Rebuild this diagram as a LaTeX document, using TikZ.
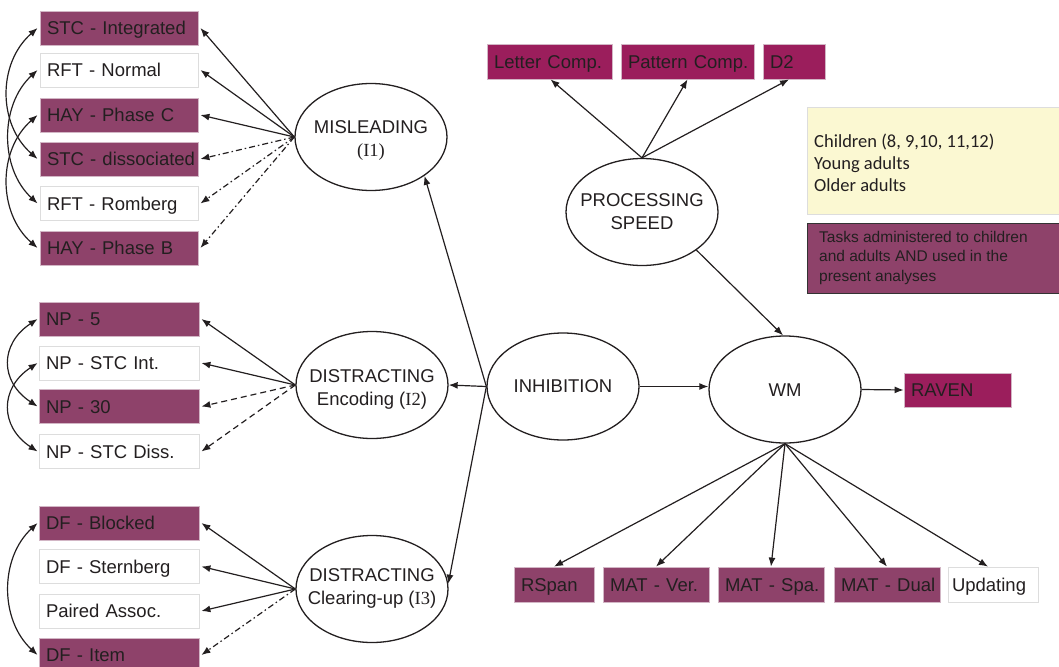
\documentclass[tikz,border=0pt]{standalone}
\usepackage{fontspec}
\setmainfont{Liberation Sans}
\newfontfamily\calib{Carlito}
\newfontfamily\tnr{Liberation Serif}
\usetikzlibrary{arrows.meta,shapes.geometric}
\definecolor{task}{HTML}{8E426A}
\definecolor{speedc}{HTML}{9B1E5C}
\definecolor{legy}{HTML}{FBF8D2}
\definecolor{ink}{HTML}{231F20}
\definecolor{taskedge}{HTML}{D2B6C5}
\definecolor{plainedge}{HTML}{DDDDDD}
\definecolor{legedge}{HTML}{333333}

\begin{document}
\begin{tikzpicture}[x=1pt,y=-1pt,
  every node/.style={text=ink, font=\fontsize{18.5}{22}\selectfont},
  box/.style={rectangle, inner xsep=7pt, inner ysep=0pt, minimum height=34pt,
    text height=13.3pt, text depth=0pt, align=left, line width=0.8pt,
    execute at begin node={\leavevmode\hbox\bgroup},
    execute at end node={\egroup}},
  tbox/.style={box, fill=task, draw=taskedge},
  wbox/.style={box, fill=white, draw=plainedge},
  sbox/.style={box, fill=speedc, draw=taskedge},
  lat/.style={ellipse, draw=ink, line width=1.3pt, fill=white, inner sep=0pt,
    minimum width=152pt, minimum height=107pt},
  lbl/.style={align=center, inner sep=0pt, font=\fontsize{18.5}{23}\selectfont},
  ln/.style={draw=ink, line width=1.2pt},
  tip/.style={-{Latex[length=9pt,width=7pt]}},
  both/.style={{Latex[length=9pt,width=7pt]}-{Latex[length=9pt,width=7pt]}},
  dd/.style={dash pattern=on 6pt off 3pt on 1.5pt off 3pt},
  ds/.style={dash pattern=on 6pt off 4pt},
]
\useasboundingbox (0,0) rectangle (1059,666);

% ---------- misleading indicators ----------
\node[tbox, text width=144pt] (stci) at (119,28)    {STC - Integrated};
\node[wbox, text width=144pt] (rftn) at (119,70)    {RFT - Normal};
\node[tbox, text width=144pt] (hayc) at (119,115)   {HAY - Phase C};
\node[tbox, text width=144pt] (stcd) at (119,159)   {STC - dissociated};
\node[wbox, text width=144pt] (rftr) at (119,203.5) {RFT - Romberg};
\node[tbox, text width=144pt] (hayb) at (119,248)   {HAY - Phase B};

% ---------- distracting encoding indicators ----------
\node[tbox, text width=146pt] (np5)   at (119,319)   {NP - 5};
\node[wbox, text width=146pt] (npint) at (119,363)   {NP - STC Int.};
\node[tbox, text width=146pt] (np30)  at (119,406.5) {NP - 30};
\node[wbox, text width=146pt] (npdis) at (119,451.5) {NP - STC Diss.};

% ---------- distracting clearing-up indicators ----------
\node[tbox, text width=146pt] (dfb) at (119,523)   {DF - Blocked};
\node[wbox, text width=146pt] (dfs) at (119,566.5) {DF - Sternberg};
\node[wbox, text width=146pt] (pa)  at (119,611)   {Paired Assoc.};
\node[tbox, text width=146pt] (dfi) at (119,655)   {DF - Item};

% ---------- processing speed indicators ----------
\node[sbox, text width=111pt, minimum height=35pt] (lc) at (549.5,61.5) {Letter Comp.};
\node[sbox, text width=119pt, minimum height=35pt] (pc) at (687.5,61.5) {Pattern Comp.};
\node[sbox, text width=48pt,  minimum height=35pt] (d2) at (794,61.5)   {D2};

% ---------- working memory indicators ----------
\node[sbox, text width=93pt] (raven) at (957.5,390) {RAVEN};
\node[tbox, text width=66pt, minimum height=35pt] (rspan) at (554,584.5) {RSpan};
\node[tbox, text width=92pt, minimum height=35pt] (matv)  at (656,584.5) {MAT - Ver.};
\node[tbox, text width=92pt, minimum height=35pt] (mats)  at (771,584.5) {MAT - Spa.};
\node[tbox, text width=92pt, minimum height=35pt] (matd)  at (887,584.5) {MAT - Dual};
\node[wbox, text width=82pt, minimum height=35pt, inner xsep=4pt] (upd) at (993,584.5) {Updating};

% ---------- latent variables ----------
\node[lat] (mis) at (371,137) {};
\node[lbl] (mist) at (371,141) {MISLEADING\\{\tnr(I1)}};
\node[lat] (enc) at (372,385) {};
\node[lbl] (enct) at (372,389) {DISTRACTING\\Encoding ({\tnr I2})};
\node[lat] (cu) at (372,589) {};
\node[lbl] (cut) at (372,588.5) {DISTRACTING\\Clearing-up ({\tnr I3})};
\node[lat] (inh) at (563,386.5) {};
\node[lbl] (inht) at (563,386.5) {INHIBITION};
\node[lat] (wm) at (785,389.5) {};
\node[lbl] (wmt) at (785,390) {WM};
\node[lat] (ps) at (642,212) {};
\node[lbl] (pst) at (642,211.5) {PROCESSING\\SPEED};

% ---------- legend ----------
\node[rectangle, fill=legy, draw=plainedge, line width=0.8pt, anchor=north west,
  minimum width=260pt, minimum height=107pt, inner sep=0pt] (legpop) at (807,107) {};
\node[anchor=west, align=left, inner sep=0pt, font=\calib\fontsize{18.5}{22}\selectfont]
  (legpopt) at (814,162.5) {Children (8, 9,10, 11,12)\\Young adults\\Older adults};
\node[rectangle, fill=task, draw=legedge, line width=1.2pt, anchor=north west,
  minimum width=260pt, minimum height=70pt, inner sep=0pt] (legtask) at (807,223) {};
\node[anchor=west, align=left, inner sep=0pt, font=\fontsize{15.5}{19.5}\selectfont]
  (legtaskt) at (819,257.5) {Tasks administered to children\\and adults AND used in the\\present analyses};

% ---------- loadings: misleading ----------
\draw[ln, tip]     (mis.west) -- ([xshift=2pt]stci.east);
\draw[ln, tip]     (mis.west) -- ([xshift=2pt]rftn.east);
\draw[ln, tip]     (mis.west) -- ([xshift=2pt]hayc.east);
\draw[ln, tip, dd] (mis.west) -- ([xshift=2pt]stcd.east);
\draw[ln, tip, dd] (mis.west) -- ([xshift=2pt]rftr.east);
\draw[ln, tip, dd] (mis.west) -- ([xshift=2pt]hayb.east);

% ---------- loadings: encoding ----------
\draw[ln, tip]     (enc.west) -- ([xshift=2pt]np5.east);
\draw[ln, tip]     (enc.west) -- ([xshift=2pt]npint.east);
\draw[ln, tip, ds] (enc.west) -- ([xshift=2pt]np30.east);
\draw[ln, tip, ds] (enc.west) -- ([xshift=2pt]npdis.east);

% ---------- loadings: clearing-up ----------
\draw[ln, tip]     (cu.west) -- ([xshift=2pt]dfb.east);
\draw[ln, tip]     (cu.west) -- ([xshift=2pt]dfs.east);
\draw[ln, tip]     (cu.west) -- ([xshift=2pt]pa.east);
\draw[ln, tip, dd] (cu.west) -- ([xshift=2pt]dfi.east);

% ---------- residual covariances ----------
\draw[ln, both] ([xshift=-2pt]stci.west) .. controls +(-40,35) and +(-40,-35) .. ([xshift=-2pt]stcd.west);
\draw[ln, both] ([xshift=-2pt]rftn.west) .. controls +(-38,35) and +(-38,-35) .. ([xshift=-2pt]rftr.west);
\draw[ln, both] ([xshift=-2pt]hayc.west) .. controls +(-40,35) and +(-40,-35) .. ([xshift=-2pt]hayb.west);
\draw[ln, both] ([xshift=-1pt]np5.west) .. controls +(-38,25) and +(-38,-25) .. ([xshift=-1pt]np30.west);
\draw[ln, both] ([xshift=-1pt]npint.west) .. controls +(-38,25) and +(-38,-25) .. ([xshift=-1pt]npdis.west);
\draw[ln, both] ([xshift=-1pt]dfb.west) .. controls +(-38,35) and +(-38,-35) .. ([xshift=-1pt]dfi.west);

% ---------- structural paths ----------
\draw[ln, tip] (inh.west) -- (mis.-36);
\draw[ln, tip] (inh.west) -- (enc.east);
\draw[ln, tip] (inh.west) -- (cu.4);
\draw[ln, tip] (inh.east) -- (inh.east -| wm.west);
\draw[ln, tip] (ps.-35) -- ([xshift=-2pt]wm.north);
\draw[ln, tip] (wm.east) -- (raven.west);

\draw[ln, tip] (ps.north) -- ([xshift=1pt]lc.south);
\draw[ln, tip] (ps.north) -- (pc.south);
\draw[ln, tip] (ps.north) -- ([xshift=-5pt]d2.south);

\draw[ln, tip] (wm.south) -- (rspan.north);
\draw[ln, tip] (wm.south) -- (matv.north);
\draw[ln, tip] (wm.south) -- (mats.north);
\draw[ln, tip] (wm.south) -- (matd.north);
\draw[ln, tip] (wm.south) -- ([xshift=-5pt]upd.north);
\end{tikzpicture}
\end{document}
